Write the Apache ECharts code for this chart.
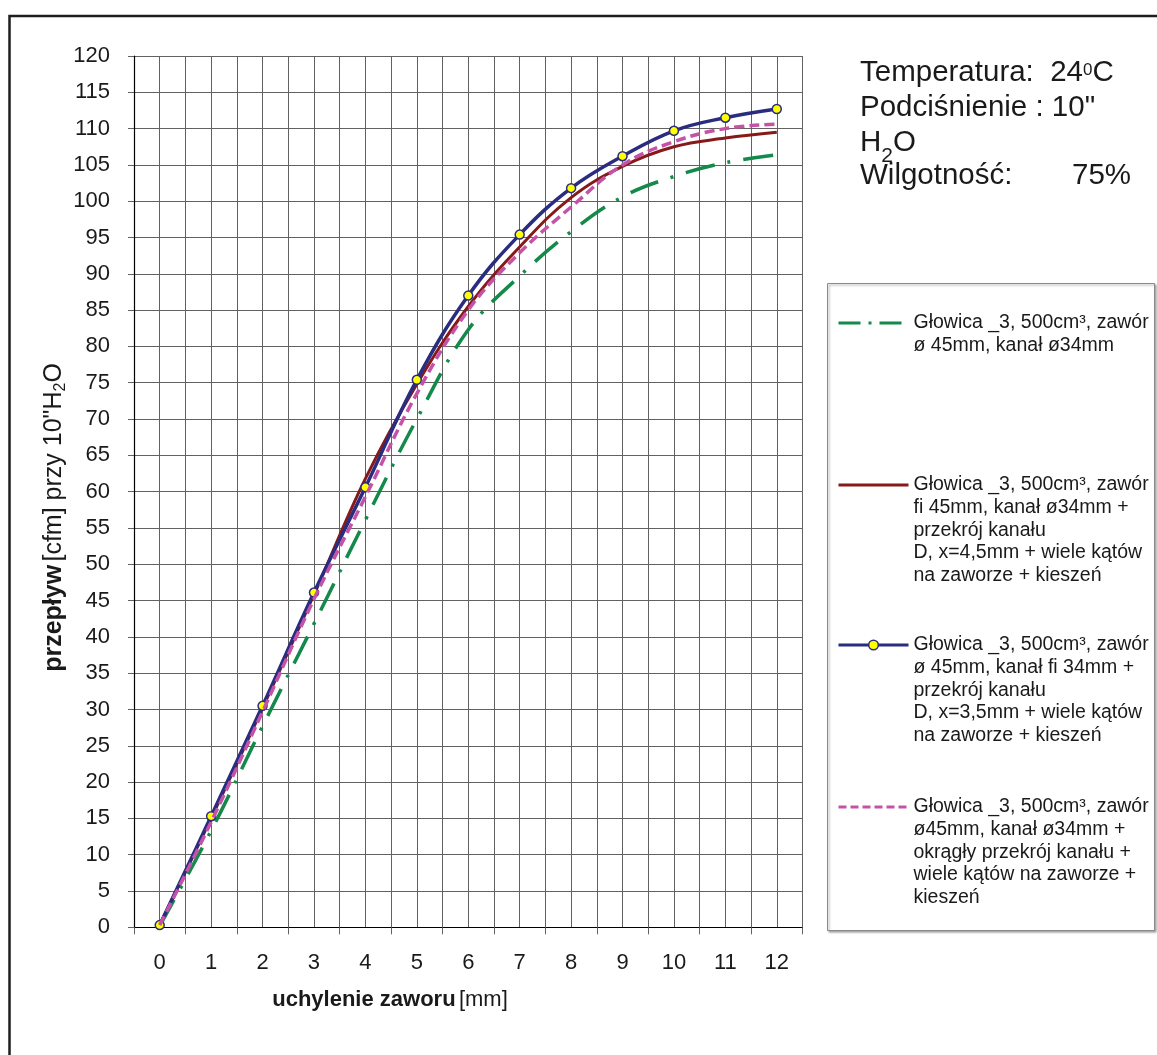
<!DOCTYPE html>
<html>
<head>
<meta charset="utf-8">
<script src="https://cdn.jsdelivr.net/npm/echarts@6/dist/echarts.min.js"></script>
<style>
html,body{margin:0;padding:0;background:#fff;}
#chart{width:1157px;height:1055px;}
</style>
</head>
<body>
<div id="chart"></div>
<script>
// ---- data ----
const categories = ['0','1','2','3','4','5','6','7','8','9','10','11','12'];
const seriesNames = [
  'Głowica _3, 500cm³, zawór\nø 45mm, kanał ø34mm',
  'Głowica _3, 500cm³, zawór\nfi 45mm, kanał ø34mm +\nprzekrój kanału\nD, x=4,5mm + wiele kątów\nna zaworze + kieszeń',
  'Głowica _3, 500cm³, zawór\nø 45mm, kanał fi 34mm +\nprzekrój kanału\nD, x=3,5mm + wiele kątów\nna zaworze + kieszeń',
  'Głowica _3, 500cm³, zawór\nø45mm, kanał ø34mm +\nokrągły przekrój kanału +\nwiele kątów na zaworze +\nkieszeń'
];
const greenValues   = [0.2, 13.3, 27.7, 41.8, 56.1, 70.0, 82.3, 89.7, 95.8, 100.6, 103.4, 105.3, 106.4];
const redValues     = [0.3, 15.0, 30.2, 45.8, 61.8, 74.8, 85.5, 93.7, 100.5, 104.8, 107.5, 108.7, 109.5];
const navyValues    = [0.3, 15.3, 30.5, 46.1, 60.6, 75.4, 87.0, 95.4, 101.8, 106.2, 109.7, 111.5, 112.7];
const magentaValues = [0.3, 14.5, 29.7, 45.2, 59.3, 73.5, 85.0, 92.9, 99.2, 105.0, 108.2, 110.0, 110.6];
const yMin = 0, yMax = 120, yStep = 5;

// ---- styles ----
const FONT = '"Liberation Sans", Arial, Helvetica, sans-serif';
const TXT = '#1a1a1a';
const GRIDC = '#626262';
const colors = ['#13894a', '#861a1a', '#2a2c80', '#c452a8'];
const lineTypes = [[30, 13, 3, 13], 'solid', 'solid', [10, 5]];
const legendLineTypes = [[22, 8, 3, 8], 'solid', 'solid', [8, 4]];
const lineWidths = [3.5, 3, 3.5, 3.5];
const valuesList = [greenValues, redValues, navyValues, magentaValues];

const LH = 22.6;
const legendFirstLineY = [323, 485, 645, 807];

const chart = echarts.init(document.getElementById('chart'));

const legends = seriesNames.map((name, i) => {
  const n = name.split('\n').length;
  const isNavy = i === 2;
  return {
    show: true,
    orient: 'vertical',
    left: 837,
    top: legendFirstLineY[i] - (2 * n - 1) * LH / 2,
    padding: 0,
    itemWidth: 70,
    itemHeight: 12,
    selectedMode: false,
    formatter: function (nm) {
      const k = nm.split('\n').length;
      return '\n'.repeat(k - 1) + nm;
    },
    data: [{
      name: name,
      lineStyle: { color: colors[i], width: 3, type: legendLineTypes[i], cap: 'butt' },
      itemStyle: isNavy
        ? { color: '#ffff00', borderColor: colors[2], borderWidth: 1.5 }
        : { color: 'rgba(0,0,0,0)', borderColor: 'rgba(0,0,0,0)', borderWidth: 0, opacity: 0 }
    }],
    textStyle: { fontFamily: FONT, fontSize: 19.5, color: TXT, lineHeight: LH }
  };
});

const series = valuesList.map((vals, i) => ({
  name: seriesNames[i],
  type: 'line',
  xAxisIndex: 0,
  yAxisIndex: 0,
  data: vals,
  smooth: 0.4,
  symbol: i === 2 ? 'circle' : 'none',
  symbolSize: 9,
  showSymbol: i === 2,
  itemStyle: i === 2 ? { color: '#ffff00', borderColor: colors[2], borderWidth: 1.5 } : { color: colors[i] },
  lineStyle: { color: colors[i], width: lineWidths[i], type: lineTypes[i], cap: 'butt' },
  emphasis: { disabled: true },
  silent: true,
  z: 2 + i
}));

const option = {
  backgroundColor: '#ffffff',
  animation: false,
  grid: { left: 134, top: 56, right: 354.5, bottom: 127.7, containLabel: false },
  xAxis: [
    {
      type: 'category',
      data: categories,
      boundaryGap: true,
      position: 'bottom',
      axisLine: { show: true, onZero: false, lineStyle: { color: '#000', width: 1.2 } },
      axisTick: { show: true, length: 7, inside: false, lineStyle: { color: GRIDC, width: 1 } },
      axisLabel: { fontFamily: FONT, fontSize: 22, color: TXT, margin: 25 },
      splitLine: { show: false }
    },
    {
      type: 'value',
      min: -0.5,
      max: 12.5,
      interval: 0.5,
      position: 'top',
      axisLine: { show: false, onZero: false },
      axisTick: { show: false },
      axisLabel: { show: false },
      splitLine: { show: true, lineStyle: { color: GRIDC, width: 1 } }
    }
  ],
  yAxis: [{
    type: 'value',
    min: yMin,
    max: yMax,
    interval: yStep,
    axisLine: { show: true, onZero: false, lineStyle: { color: '#000', width: 1.2 } },
    axisTick: { show: true, length: 6, lineStyle: { color: GRIDC, width: 1 } },
    axisLabel: { fontFamily: FONT, fontSize: 22, color: TXT, margin: 24 },
    splitLine: { show: true, lineStyle: { color: GRIDC, width: 1 } }
  }],
  legend: legends,
  series: series,
  graphic: [
    {
      type: 'rect', silent: true, z: -10,
      shape: { x: 9.5, y: 16, width: 1300, height: 1200 },
      style: { fill: 'none', stroke: '#1e1e1e', lineWidth: 2.5 }
    },
    {
      type: 'rect', silent: true, z: 1,
      shape: { x: 827.5, y: 283.5, width: 327, height: 647 },
      style: { fill: '#ffffff', stroke: '#8a8a8a', lineWidth: 1,
               shadowBlur: 2, shadowOffsetX: 1.5, shadowOffsetY: 1.5, shadowColor: 'rgba(0,0,0,0.35)' }
    },
    {
      type: 'text', silent: true, x: 860, y: 72.5,
      style: {
        text: '{a|Temperatura:  24}{s|0}{a|C}',
        align: 'left', verticalAlign: 'middle',
        rich: {
          a: { fontFamily: FONT, fontSize: 29.5, fill: TXT, lineHeight: 22 },
          s: { fontFamily: FONT, fontSize: 17, fill: TXT, lineHeight: 22, verticalAlign: 'top' }
        }
      }
    },
    {
      type: 'text', silent: true, x: 860, y: 107.5,
      style: { text: 'Podciśnienie : 10"', fontFamily: FONT, fontSize: 29.5, fill: TXT, align: 'left', verticalAlign: 'middle' }
    },
    {
      type: 'text', silent: true, x: 860, y: 142.5,
      style: {
        text: '{a|H}{b|2}{a|O}',
        align: 'left', verticalAlign: 'middle',
        rich: {
          a: { fontFamily: FONT, fontSize: 29.5, fill: TXT, lineHeight: 48 },
          b: { fontFamily: FONT, fontSize: 21, fill: TXT, lineHeight: 48, verticalAlign: 'bottom' }
        }
      }
    },
    {
      type: 'text', silent: true, x: 860, y: 175.5,
      style: { text: 'Wilgotność:', fontFamily: FONT, fontSize: 29.5, fill: TXT, align: 'left', verticalAlign: 'middle' }
    },
    {
      type: 'text', silent: true, x: 1072, y: 175.5,
      style: { text: '75%', fontFamily: FONT, fontSize: 29.5, fill: TXT, align: 'left', verticalAlign: 'middle' }
    },
    {
      type: 'text', silent: true, x: 390, y: 1000,
      style: {
        text: '{b|uchylenie zaworu} {n|[mm]}',
        align: 'center', verticalAlign: 'middle',
        rich: {
          b: { fontFamily: FONT, fontSize: 22, fontWeight: 'bold', fill: TXT },
          n: { fontFamily: FONT, fontSize: 22, fill: TXT }
        }
      }
    },
    {
      type: 'text', silent: true, x: 54, y: 517.5, rotation: Math.PI / 2,
      style: {
        text: '{b|przepływ} {n|[cfm] przy 10"H}{s|2}{n|O}',
        align: 'center', verticalAlign: 'middle',
        rich: {
          b: { fontFamily: FONT, fontSize: 25, fontWeight: 'bold', fill: TXT, lineHeight: 30 },
          n: { fontFamily: FONT, fontSize: 25, fill: TXT, lineHeight: 30 },
          s: { fontFamily: FONT, fontSize: 16, fill: TXT, lineHeight: 30, verticalAlign: 'bottom' }
        }
      }
    }
  ]
};

chart.setOption(option);
</script>
</body>
</html>
